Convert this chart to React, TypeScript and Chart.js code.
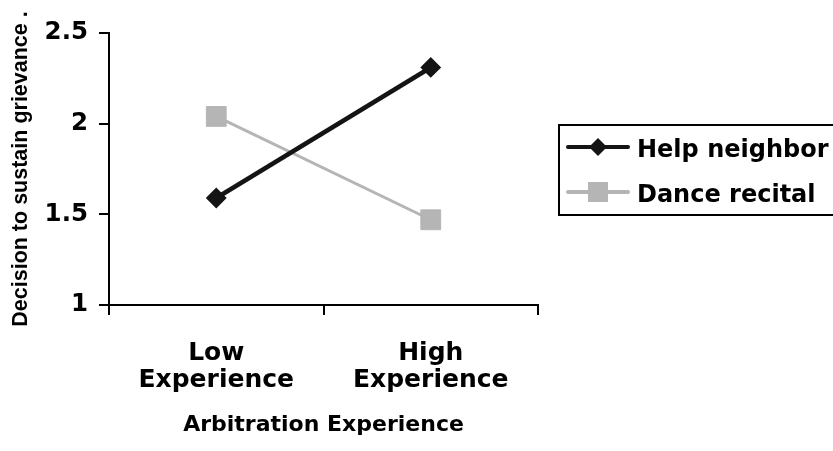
import React, { useEffect, useRef } from "react";
import { Chart, registerables } from "chart.js";

Chart.register(...registerables);

const categories: string[][] = [["Low", "Experience"], ["High", "Experience"]];
const seriesNames = ["Help neighbor", "Dance recital"];
const helpNeighbor = [1.59, 2.31];
const danceRecital = [2.04, 1.47];
const yTickValues = [1, 1.5, 2, 2.5];
const yTickLabels = ["1", "1.5", "2", "2.5"];
const xTitle = "Arbitration Experience";
const yTitle = "Decision to sustain grievance .";

const BLACK = "#141414";
const GRAY = "#b5b5b5";
const WIDE_FONT = "'DejaVu Sans', 'Liberation Sans', Arial, sans-serif";
const ARIAL = "'Liberation Sans', Arial, sans-serif";

const boxLegend = {
  id: "boxLegend",
  afterDraw(chart: any) {
    const ctx: CanvasRenderingContext2D = chart.ctx;
    ctx.save();
    ctx.lineWidth = 2;
    ctx.strokeStyle = "#000";
    ctx.strokeRect(559, 125, 400, 90);
    chart.data.datasets.forEach((ds: any, i: number) => {
      const y = 147 + i * 45;
      ctx.strokeStyle = ds.borderColor;
      ctx.lineWidth = 4;
      ctx.lineCap = "round";
      ctx.beginPath();
      ctx.moveTo(568, y);
      ctx.lineTo(628, y);
      ctx.stroke();
      ctx.fillStyle = ds.pointBackgroundColor;
      ctx.beginPath();
      if (ds.pointStyle === "rectRot") {
        const r = 9;
        ctx.moveTo(598 - r, y);
        ctx.lineTo(598, y - r);
        ctx.lineTo(598 + r, y);
        ctx.lineTo(598, y + r);
        ctx.closePath();
      } else {
        ctx.rect(598 - 10, y - 10, 20, 20);
      }
      ctx.fill();
      ctx.fillStyle = "#000";
      ctx.font = `bold 24px ${WIDE_FONT}`;
      ctx.textBaseline = "alphabetic";
      ctx.textAlign = "left";
      ctx.fillText(ds.label, 637, y + 10);
    });
    ctx.restore();
  },
};

export default function App() {
  const ref = useRef<HTMLCanvasElement | null>(null);

  useEffect(() => {
    if (!ref.current) return;
    const chart = new Chart(ref.current, {
      type: "line",
      data: {
        labels: categories as any,
        datasets: [
          {
            label: seriesNames[0],
            data: helpNeighbor,
            borderColor: BLACK,
            backgroundColor: BLACK,
            pointBackgroundColor: BLACK,
            pointBorderColor: BLACK,
            pointStyle: "rectRot",
            pointRadius: 9,
            pointBorderWidth: 2,
            borderWidth: 4.5,
            tension: 0,
          },
          {
            label: seriesNames[1],
            data: danceRecital,
            borderColor: GRAY,
            backgroundColor: GRAY,
            pointBackgroundColor: GRAY,
            pointBorderColor: GRAY,
            pointStyle: "rect",
            pointRadius: 14,
            pointBorderWidth: 1,
            borderWidth: 3,
            tension: 0,
          },
        ],
      },
      options: {
        responsive: false,
        animation: false,
        layout: { padding: { top: 33, right: 295, left: 0, bottom: 0 } },
        plugins: {
          legend: { display: false },
          tooltip: { enabled: false },
        },
        scales: {
          x: {
            type: "category",
            offset: true,
            grid: {
              offset: true,
              drawOnChartArea: false,
              drawTicks: true,
              tickLength: 10,
              color: "#000",
              lineWidth: 2,
            },
            border: { display: true, color: "#000", width: 2 },
            ticks: {
              color: "#000",
              padding: 25,
              maxRotation: 0,
              autoSkip: false,
              font: { family: WIDE_FONT, weight: "bold", size: 25, lineHeight: 1.08 },
            },
            title: {
              display: true,
              text: xTitle,
              color: "#000",
              padding: { top: 0, bottom: 12.5 },
              font: { family: WIDE_FONT, weight: "bold", size: 22 },
            },
            afterFit(scale: any) {
              scale.height = 146;
            },
          },
          y: {
            min: yTickValues[0],
            max: yTickValues[yTickValues.length - 1],
            afterBuildTicks(scale: any) {
              scale.ticks = yTickValues.map((v) => ({ value: v }));
            },
            grid: {
              drawOnChartArea: false,
              drawTicks: true,
              tickLength: 10,
              color: "#000",
              lineWidth: 2,
            },
            border: { display: true, color: "#000", width: 2 },
            ticks: {
              color: "#000",
              padding: 11,
              font: { family: WIDE_FONT, weight: "bold", size: 24.5 },
              callback: (_v: any, i: number) => yTickLabels[i],
            },
            title: {
              display: true,
              text: yTitle,
              color: "#000",
              padding: { top: 8, bottom: 0 },
              font: { family: ARIAL, weight: "bold", size: 21.5 },
            },
            afterFit(scale: any) {
              scale.width = 109;
            },
          },
        },
      },
      plugins: [boxLegend],
    });
    return () => chart.destroy();
  }, []);

  return (
    <div style={{ position: "fixed", left: 0, top: 0, width: 833, height: 451, background: "#fff" }}>
      <canvas ref={ref} width={833} height={451} style={{ width: 833, height: 451, display: "block" }} />
    </div>
  );
}
